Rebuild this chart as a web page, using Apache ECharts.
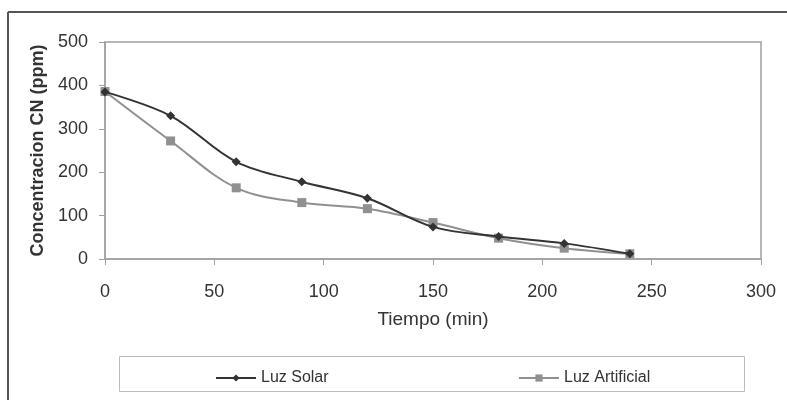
<!DOCTYPE html>
<html>
<head>
<meta charset="utf-8">
<script src="https://cdn.jsdelivr.net/npm/echarts@6/dist/echarts.min.js"></script>
<style>html,body{margin:0;padding:0;background:#fff;}#c{width:787px;height:400px;}</style>
</head>
<body>
<div id="c"></div>
<script>
const tiempo = [0, 30, 60, 90, 120, 150, 180, 210, 240];
const luzSolar = [385, 330, 224, 178, 140, 74, 52, 36, 12];
const luzArtificial = [386, 272, 164, 130, 116, 84, 48, 25, 12];
const xTicks = [0, 50, 100, 150, 200, 250, 300];
const yTicks = [0, 100, 200, 300, 400, 500];
const FONT = "'Liberation Sans Narrow', 'Liberation Sans', Arial, sans-serif";

const chart = echarts.init(document.getElementById('c'), null, {renderer: 'canvas'});
chart.setOption({
  animation: false,
  backgroundColor: '#fff',
  textStyle: {fontFamily: FONT},
  grid: {left: 105, top: 42, right: 26, bottom: 141, show: true, borderColor: '#a0a0a0', borderWidth: 1.5, backgroundColor: 'transparent'},
  graphic: [
    {type: 'line', shape: {x1: 8, y1: 12, x2: 787, y2: 12}, style: {stroke: '#555', lineWidth: 2}},
    {type: 'line', shape: {x1: 8, y1: 12, x2: 8, y2: 400}, style: {stroke: '#555', lineWidth: 2}},
    {type: 'rect', shape: {x: 119.5, y: 356.5, width: 625, height: 35}, style: {fill: '#fff', stroke: '#bbb', lineWidth: 1}, z: -1}
  ],
  legend: [
    {data: ['Luz Solar'], left: 210, top: 365, itemWidth: 40, itemHeight: 9, itemGap: 0,
     textStyle: {fontFamily: FONT, fontSize: 16, color: '#333'}},
    {data: ['Luz Artificial'], left: 513, top: 365, itemWidth: 40, itemHeight: 9, itemGap: 0,
     textStyle: {fontFamily: FONT, fontSize: 16, color: '#333'}}
  ],
  xAxis: {
    type: 'value', min: xTicks[0], max: xTicks[xTicks.length - 1], interval: 50,
    name: 'Tiempo (min)', nameLocation: 'middle', nameGap: 51,
    nameTextStyle: {fontFamily: FONT, fontSize: 19, color: '#333'},
    axisLine: {show: true, lineStyle: {color: '#a0a0a0', width: 1.5}},
    axisTick: {show: true, length: 6, lineStyle: {color: '#a0a0a0'}},
    axisLabel: {margin: 24, fontFamily: FONT, fontSize: 18, color: '#333'},
    splitLine: {show: false}
  },
  yAxis: {
    type: 'value', min: yTicks[0], max: yTicks[yTicks.length - 1], interval: 100,
    name: 'Concentracion CN (ppm)', nameLocation: 'middle', nameGap: 54,
    nameTextStyle: {fontFamily: FONT, fontSize: 18, fontWeight: 'bold', color: '#333'},
    axisLine: {show: true, lineStyle: {color: '#a0a0a0', width: 1.5}},
    axisTick: {show: true, length: 6, lineStyle: {color: '#a0a0a0'}},
    axisLabel: {margin: 17, fontFamily: FONT, fontSize: 18, color: '#333'},
    splitLine: {show: false}
  },
  series: [
    {name: 'Luz Solar', type: 'line', smooth: 0.35, data: tiempo.map((t, i) => [t, luzSolar[i]]),
     symbol: 'diamond', symbolSize: 9, z: 3,
     lineStyle: {color: '#333', width: 2}, itemStyle: {color: '#333'}},
    {name: 'Luz Artificial', type: 'line', smooth: 0.35, data: tiempo.map((t, i) => [t, luzArtificial[i]]),
     symbol: 'rect', symbolSize: 9, z: 2,
     lineStyle: {color: '#909090', width: 2}, itemStyle: {color: '#909090'}}
  ]
});
</script>
</body>
</html>
